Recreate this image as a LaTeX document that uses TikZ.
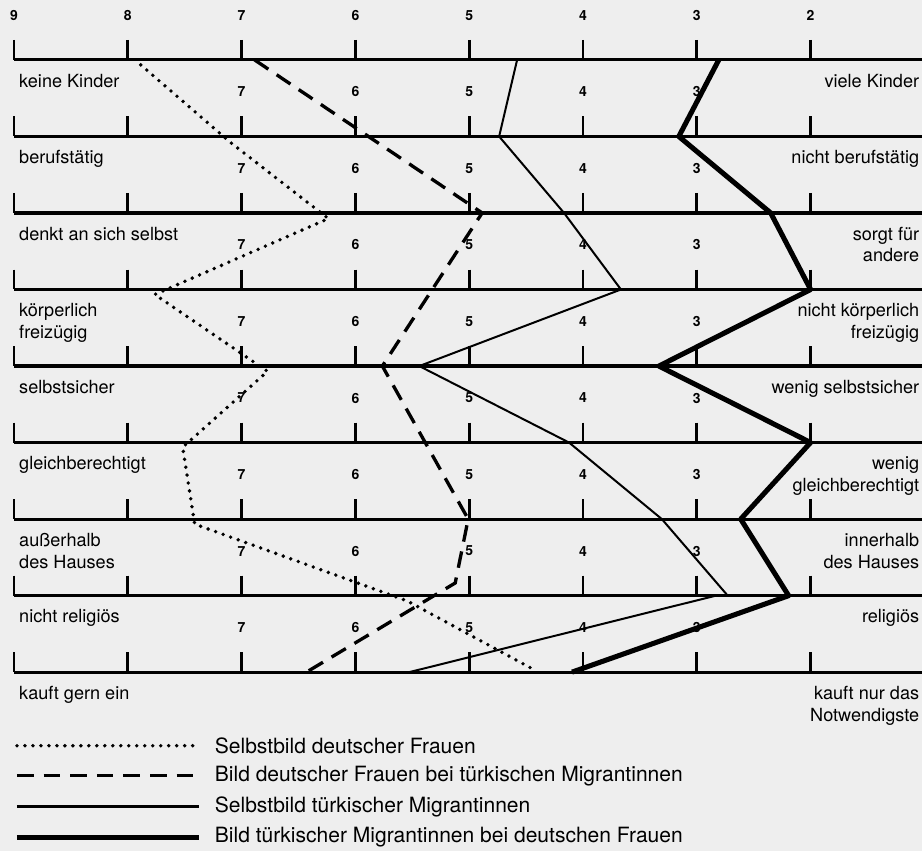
\documentclass[tikz,border=0pt]{standalone}
\usepackage{fontspec}
\setmainfont{TeX Gyre Heros}
\usepackage{tikz}

\definecolor{paper}{RGB}{238,238,238}
\tikzset{
	axis/.style={line width=2.4pt},
	tick/.style={line width=2.2pt},
	num/.style={font=\fontsize{10.5}{12}\selectfont\bfseries, inner sep=0pt},
	lbl/.style={font=\fontsize{13.6}{16.3}\selectfont, inner sep=0pt},
	lgd/.style={font=\fontsize{15.8}{18}\selectfont, inner sep=0pt, anchor=west},
	dotline/.style={line width=2.9pt, line cap=round, dash pattern=on 0pt off 6pt},
	dashline/.style={line width=2.5pt, dash pattern=on 12.5pt off 7.5pt},
	thinline/.style={line width=1.5pt},
	thickline/.style={line width=3.8pt, line join=round},
}

\begin{document}
\begin{tikzpicture}[x=0.75pt, y=-0.75pt]
	\fill[paper] (0,0) rectangle (924,852);

	% scale lines with ticks
	\foreach \y in {60,136.7,213.3,290,366.7,443.3,520,596.7,673.3} {
		\draw[axis] (14,\y) -- (924,\y);
		\foreach \x in {14,128,...,812}
			\draw[tick] (\x,\y-20) -- (\x,\y);
	}
	\foreach \v [count=\i from 0] in {9,8,...,2}
		\node[num] (top\v) at (14+114*\i,15.7) {\v};
	\foreach \y [count=\r] in {92,168.7,245.3,322,398.7,475.3,552,628.7}
		\foreach \v [count=\i from 2] in {7,6,...,3}
			\node[num] (n\r-\v) at (14+114*\i,\y) {\v};

	% pole labels (base of two-line labels = second line)
	\node[lbl, anchor=base west] (l1) at (19,87.3) {keine Kinder};
	\node[lbl, anchor=base west] (l2) at (19,164) {berufstätig};
	\node[lbl, anchor=base west] (l3) at (19,240.6) {denkt an sich selbst};
	\node[lbl, anchor=base west, align=left] (l4) at (19,339) {körperlich\\freizügig};
	\node[lbl, anchor=base west] (l5) at (19,394) {selbstsicher};
	\node[lbl, anchor=base west] (l6) at (19,470.6) {gleichberechtigt};
	\node[lbl, anchor=base west, align=left] (l7) at (19,569) {außerhalb\\des Hauses};
	\node[lbl, anchor=base west] (l8) at (19,624) {nicht religiös};
	\node[lbl, anchor=base west] (l9) at (19,700.6) {kauft gern ein};

	\node[lbl, anchor=base east] (r1) at (921,87.3) {viele Kinder};
	\node[lbl, anchor=base east] (r2) at (921,164) {nicht berufstätig};
	\node[lbl, anchor=base east, align=right] (r3) at (921,262.3) {sorgt für\\andere};
	\node[lbl, anchor=base east, align=right] (r4) at (921,339) {nicht körperlich\\freizügig};
	\node[lbl, anchor=base east] (r5) at (921,394) {wenig selbstsicher};
	\node[lbl, anchor=base east, align=right] (r6) at (921,492.3) {wenig\\gleichberechtigt};
	\node[lbl, anchor=base east, align=right] (r7) at (921,569) {innerhalb\\des Hauses};
	\node[lbl, anchor=base east] (r8) at (921,624) {religiös};
	\node[lbl, anchor=base east, align=right] (r9) at (921,722.3) {kauft nur das\\Notwendigste};

	% profiles
	\draw[dotline] (141,65) -- (230,142) -- (329,219) -- (155,295) -- (268,372)
		-- (183,448) -- (195,525) -- (408,602) -- (537,672);
	\draw[dashline] (255,60) -- (483,213.3) -- (383,366.7) -- (469,520)
		-- (456,584) -- (307,673.3);
	\draw[thinline] (518,60) -- (500,136.7) -- (565,213.3) -- (622,290) -- (420,366.7)
		-- (570,443.3) -- (663,520) -- (729,596.7) -- (717,596.7) -- (410,673.3);
	\draw[thickline] (720,60) -- (680,136.7) -- (772,213.3) -- (812,290) -- (660,366.7)
		-- (812,443.3) -- (742,520) -- (790,596.7) -- (573,673.3);

	% legend
	\coordinate (k1) at (17,747);
	\coordinate (k2) at (17,777);
	\coordinate (k3) at (17,808);
	\coordinate (k4) at (17,839);
	\draw[dotline] (k1) -- ++(182,0);
	\draw[dashline] (k2) -- ++(182,0);
	\draw[thinline, line width=2.3pt] (k3) -- ++(182,0);
	\draw[thickline] (k4) -- ++(182,0);
	\node[lgd] (t1) at (215,747) {Selbstbild deutscher Frauen};
	\node[lgd] (t2) at (215,777) {Bild deutscher Frauen bei türkischen Migrantinnen};
	\node[lgd] (t3) at (215,808) {Selbstbild türkischer Migrantinnen};
	\node[lgd] (t4) at (215,839) {Bild türkischer Migrantinnen bei deutschen Frauen};
\end{tikzpicture}
\end{document}
